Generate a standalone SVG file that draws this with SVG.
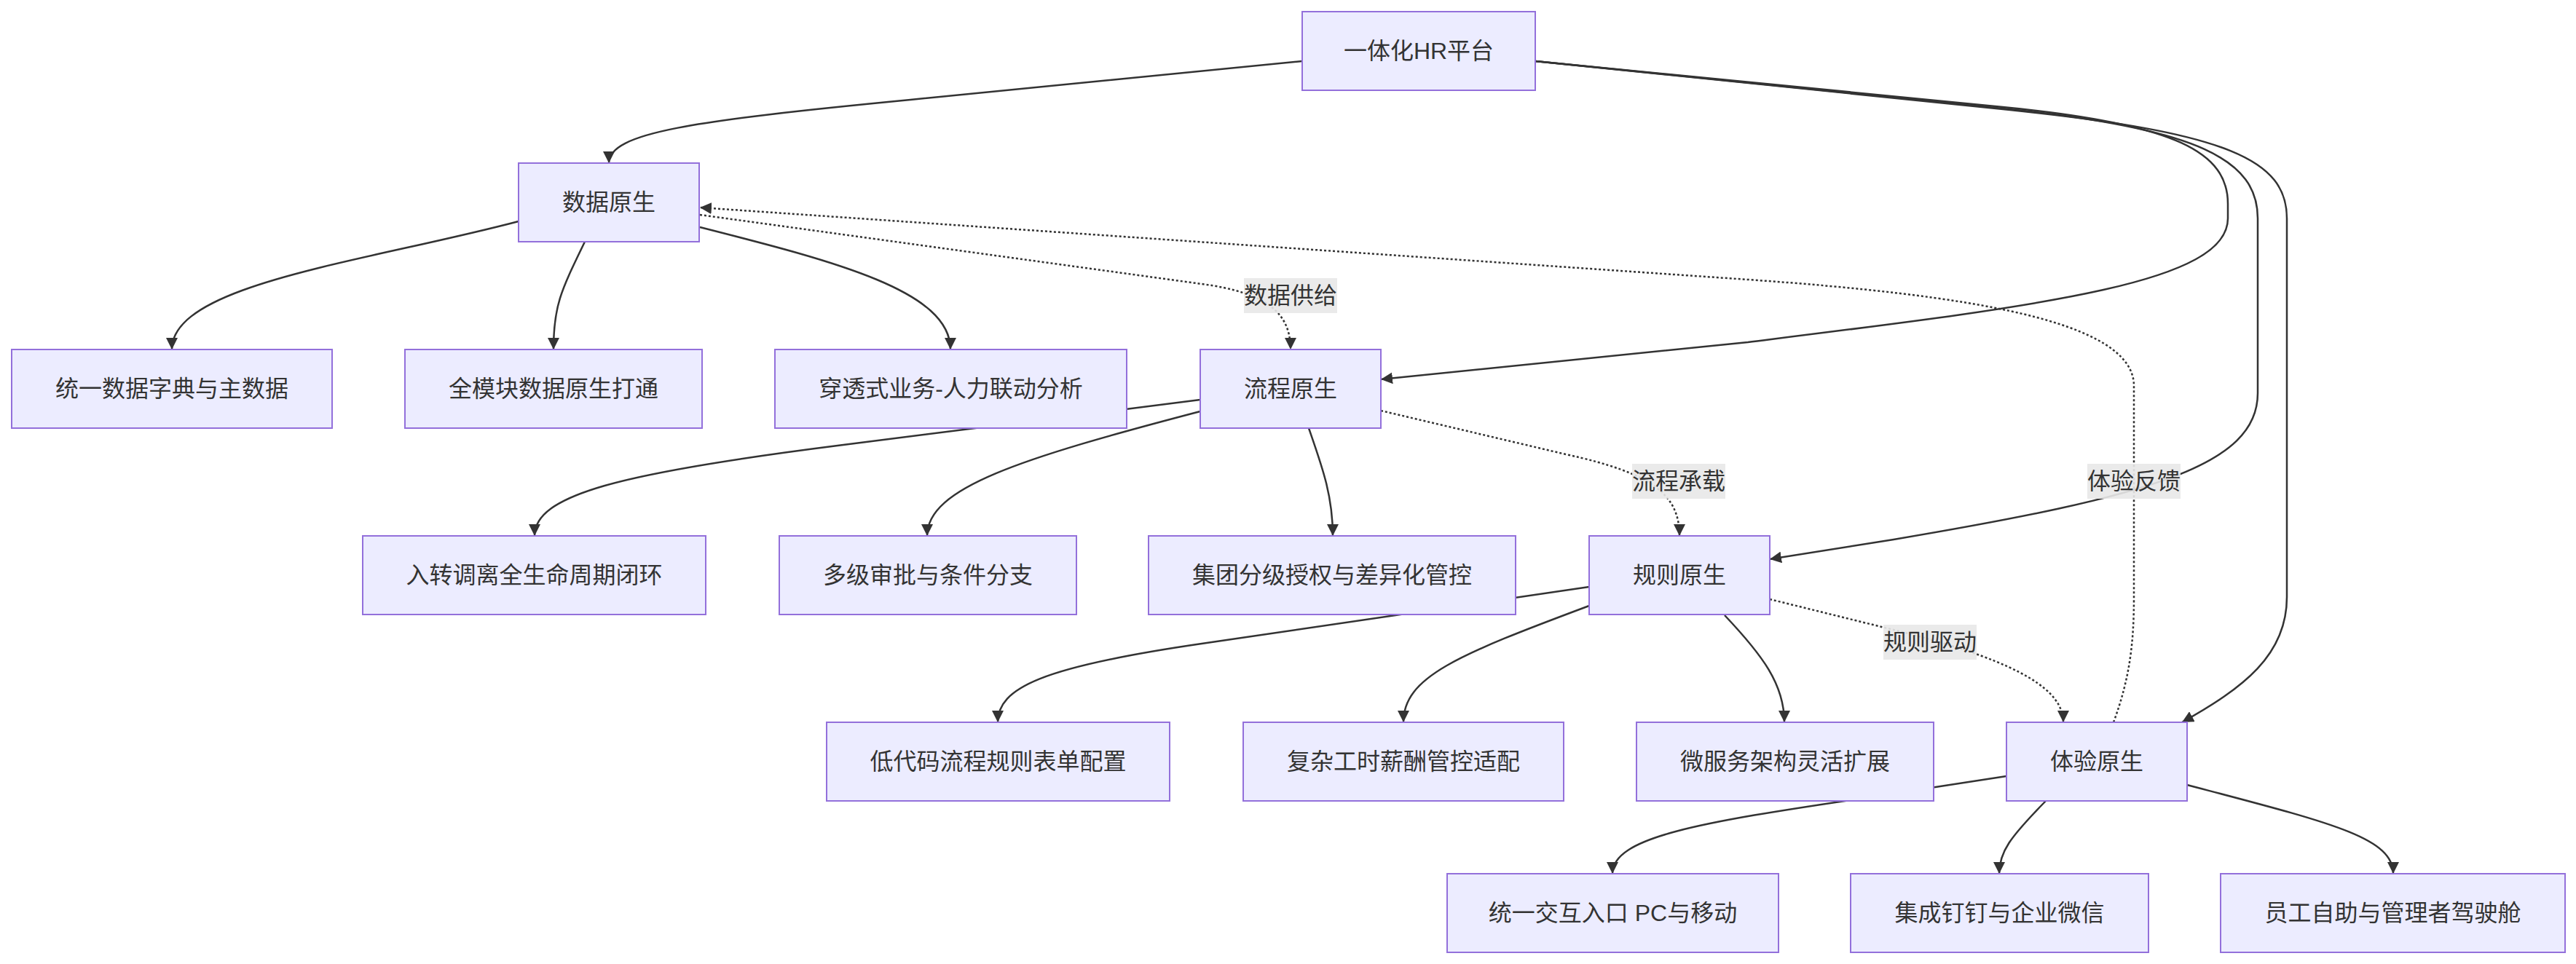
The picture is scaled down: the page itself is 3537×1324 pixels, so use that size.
<svg xmlns="http://www.w3.org/2000/svg" width="3537" height="1324" viewBox="0 0 3537 1324">
<style>
.node rect{fill:#ECECFF;stroke:#9370DB;stroke-width:2}
.node text,.lbl text{font-family:"Liberation Sans","Noto Sans CJK SC",sans-serif;font-size:32px;fill:#333;text-anchor:middle;dominant-baseline:central}
.e{fill:none;stroke:#333;stroke-width:2.5}
.d{fill:none;stroke:#333;stroke-width:2.5;stroke-dasharray:3 3}
.lbl rect{fill:#e8e8e8;opacity:0.9}
</style>
<defs>
<marker id="ah" viewBox="0 0 10 10" refX="10" refY="5" markerUnits="userSpaceOnUse" markerWidth="16" markerHeight="16" orient="auto">
<path d="M0,0 L10,5 L0,10 z" fill="#333"/>
</marker>
</defs>
<rect width="3537" height="1324" fill="#ffffff"/>
<g id="connectors">
<path class="e" marker-end="url(#ah)" d="M1788,84 L1250,137 C950,166 836,182 836,224"/>
<path class="e" marker-end="url(#ah)" d="M2108,84 L2750,147 C2990,170 3059,210 3059,280 L3059,300 C3059,390 2800,420 2400,470 L1896,521"/>
<path class="e" marker-end="url(#ah)" d="M2108,84 L2750,149 C3020,176 3100,220 3100,300 L3100,540 C3100,640 2950,682 2600,741 L2430,768"/>
<path class="e" marker-end="url(#ah)" d="M2108,84 L2760,151 C3060,182 3140,220 3140,300 L3140,820 C3140,900 3080,945 2996,992"/>
<path class="e" marker-end="url(#ah)" d="M712,304 C500,360 236,390 236,480"/>
<path class="e" marker-end="url(#ah)" d="M803,332 C770,400 760,420 760,480"/>
<path class="e" marker-end="url(#ah)" d="M961,312 C1150,360 1305,400 1305,480"/>
<path class="d" marker-end="url(#ah)" d="M961,295 L1650,390 C1740,402 1772,430 1772,480"/>
<path class="d" marker-end="url(#ah)" d="M2902,992 C2925,930 2930,880 2930,820 L2930,530 C2930,440 2700,405 2400,384 L961,285"/>
<path class="e" marker-end="url(#ah)" d="M1648,549 L1150,612 C850,650 734,680 734,736"/>
<path class="e" marker-end="url(#ah)" d="M1648,565 C1400,630 1273,670 1273,736"/>
<path class="e" marker-end="url(#ah)" d="M1797,588 C1815,640 1830,680 1830,736"/>
<path class="d" marker-end="url(#ah)" d="M1896,564 L2150,624 C2270,650 2306,680 2306,736"/>
<path class="e" marker-end="url(#ah)" d="M2182,806 L1650,884 C1430,916 1370,945 1370,992"/>
<path class="e" marker-end="url(#ah)" d="M2182,832 C2000,900 1927,930 1927,992"/>
<path class="e" marker-end="url(#ah)" d="M2368,845 C2420,900 2450,940 2450,992"/>
<path class="d" marker-end="url(#ah)" d="M2430,823 L2620,870 C2780,912 2833,950 2833,992"/>
<path class="e" marker-end="url(#ah)" d="M2755,1066 L2560,1096 C2330,1130 2214,1150 2214,1200"/>
<path class="e" marker-end="url(#ah)" d="M2809,1100 C2760,1150 2745,1170 2745,1200"/>
<path class="e" marker-end="url(#ah)" d="M3003,1078 C3200,1130 3286,1150 3286,1200"/>
</g>
<g id="edge-labels">
<g class="lbl"><rect x="1708" y="382" width="128" height="48"/><text x="1772" y="406">数据供给</text></g>
<g class="lbl"><rect x="2866" y="637" width="128" height="48"/><text x="2930" y="661">体验反馈</text></g>
<g class="lbl"><rect x="2241" y="637" width="128" height="48"/><text x="2305" y="661">流程承载</text></g>
<g class="lbl"><rect x="2586" y="858" width="128" height="48"/><text x="2650" y="882">规则驱动</text></g>
</g>
<g id="n-hr" class="node"><rect x="1788" y="16" width="320" height="108"/><text x="1948" y="70">一体化HR平台</text></g>
<g id="n-data" class="node"><rect x="712" y="224" width="248" height="108"/><text x="836" y="278">数据原生</text></g>
<g id="n-d1" class="node"><rect x="16" y="480" width="440" height="108"/><text x="236" y="534">统一数据字典与主数据</text></g>
<g id="n-d2" class="node"><rect x="556" y="480" width="408" height="108"/><text x="760" y="534">全模块数据原生打通</text></g>
<g id="n-d3" class="node"><rect x="1064" y="480" width="483" height="108"/><text x="1305.5" y="534">穿透式业务-人力联动分析</text></g>
<g id="n-flow" class="node"><rect x="1648" y="480" width="248" height="108"/><text x="1772" y="534">流程原生</text></g>
<g id="n-f1" class="node"><rect x="498" y="736" width="471" height="108"/><text x="733.5" y="790">入转调离全生命周期闭环</text></g>
<g id="n-f2" class="node"><rect x="1070" y="736" width="408" height="108"/><text x="1274" y="790">多级审批与条件分支</text></g>
<g id="n-f3" class="node"><rect x="1577" y="736" width="504" height="108"/><text x="1829" y="790">集团分级授权与差异化管控</text></g>
<g id="n-rule" class="node"><rect x="2182" y="736" width="248" height="108"/><text x="2306" y="790">规则原生</text></g>
<g id="n-r1" class="node"><rect x="1135" y="992" width="471" height="108"/><text x="1370.5" y="1046">低代码流程规则表单配置</text></g>
<g id="n-r2" class="node"><rect x="1707" y="992" width="440" height="108"/><text x="1927" y="1046">复杂工时薪酬管控适配</text></g>
<g id="n-r3" class="node"><rect x="2247" y="992" width="408" height="108"/><text x="2451" y="1046">微服务架构灵活扩展</text></g>
<g id="n-exp" class="node"><rect x="2755" y="992" width="248" height="108"/><text x="2879" y="1046">体验原生</text></g>
<g id="n-e1" class="node"><rect x="1987" y="1200" width="455" height="108"/><text x="2214.5" y="1254">统一交互入口 PC与移动</text></g>
<g id="n-e2" class="node"><rect x="2541" y="1200" width="409" height="108"/><text x="2745.5" y="1254">集成钉钉与企业微信</text></g>
<g id="n-e3" class="node"><rect x="3049" y="1200" width="473" height="108"/><text x="3285.5" y="1254">员工自助与管理者驾驶舱</text></g>
</svg>
